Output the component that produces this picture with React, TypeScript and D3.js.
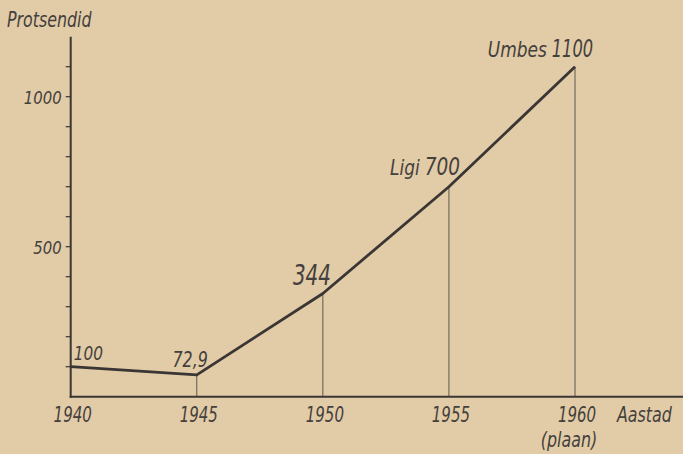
import React, { useEffect, useRef } from 'react';
import * as d3 from 'd3';

// Tööstustoodangu kasv protsentides (1940 = 100)
const years = [1940, 1945, 1950, 1955, 1960];
const values = [100, 72.9, 344, 700, 1100];
const pointLabels = ['100', '72,9', '344', '700', '1100'];
const labelPrefixes = ['', '', '', 'Ligi', 'Umbes'];
const yTickValues = [100, 200, 300, 400, 500, 600, 700, 800, 900, 1000, 1100];
const yTickLabels = [500, 1000];

const W = 683;
const H = 454;
const FONT = '"DejaVu Sans Condensed", "DejaVu Sans", sans-serif';
const INK = '#3a3633';
const TEXT = '#44403c';
const PAPER = '#e2cba7';

// label placement relative to the point: [anchor x offset, baseline offset, number size, x-scale]
const labelLayout: [number, number, number, number][] = [
  [3, -7, 20, 0.85],
  [11, -8, 22, 0.8],
  [8, -9, 28, 0.79],
  [11, -12, 25, 0.82],
  [18, -10, 24, 0.75],
];

type G = d3.Selection<SVGGElement, unknown, null, undefined>;

// narrow italic text, squeezed horizontally like the condensed lettering of the original
const addText = (
  g: G,
  x: number,
  y: number,
  text: string,
  size: number,
  sx: number,
  anchor: 'start' | 'middle' | 'end' = 'start'
) =>
  g.append('text')
    .attr('transform', `translate(${x},${y}) scale(${sx},1)`)
    .attr('text-anchor', anchor)
    .attr('font-size', size)
    .attr('fill', TEXT)
    .text(text);

const App: React.FC = () => {
  const svgRef = useRef<SVGSVGElement>(null);

  useEffect(() => {
    if (!svgRef.current) return;
    const svg = d3.select(svgRef.current);
    svg.selectAll('*').remove();

    const x = d3.scaleLinear().domain([1940, 1960]).range([70.7, 575]);
    const y = d3.scaleLinear().domain([0, 1200]).range([396.7, 36.7]);
    const x0 = x(1940);
    const y0 = y(0);

    svg.append('rect').attr('width', W).attr('height', H).attr('fill', PAPER);

    const g = svg.append('g').style('font-family', FONT).style('font-style', 'italic') as G;

    // drop lines
    g.selectAll('.drop')
      .data(years.slice(1))
      .enter()
      .append('line')
      .attr('x1', (d) => x(d))
      .attr('x2', (d) => x(d))
      .attr('y1', (d) => y(values[years.indexOf(d)]))
      .attr('y2', y0)
      .attr('stroke', '#5e5850')
      .attr('stroke-width', 1);

    // axes
    g.append('line')
      .attr('x1', x0).attr('x2', x0)
      .attr('y1', y(1200)).attr('y2', y0 + 1)
      .attr('stroke', INK).attr('stroke-width', 2);
    g.append('line')
      .attr('x1', x0 - 1).attr('x2', W)
      .attr('y1', y0).attr('y2', y0)
      .attr('stroke', INK).attr('stroke-width', 2);

    g.selectAll('.ytick')
      .data(yTickValues)
      .enter()
      .append('line')
      .attr('x1', x0 - 5).attr('x2', x0)
      .attr('y1', (d) => y(d)).attr('y2', (d) => y(d))
      .attr('stroke', INK).attr('stroke-width', 1.2);

    yTickLabels.forEach((d) => addText(g, x0 - 9, y(d) + 7, String(d), 18, 0.92, 'end'));

    addText(g, 7, 27, 'Protsendid', 21, 0.84);

    // x labels
    years.forEach((d) => addText(g, x(d) + 2, 422, String(d), 22, 0.76, 'middle'));
    addText(g, x(1960) - 6, 447, '(plaan)', 21, 0.84, 'middle');
    addText(g, 617, 422, 'Aastad', 21, 0.84);

    // main line
    const line = d3.line<number>()
      .x((_, i) => x(years[i]))
      .y((d) => y(d));
    g.append('path')
      .datum(values)
      .attr('d', line)
      .attr('fill', 'none')
      .attr('stroke', INK)
      .attr('stroke-width', 2.8)
      .attr('stroke-linejoin', 'round');

    // point labels
    values.forEach((v, i) => {
      const [dx, dy, size, sx] = labelLayout[i];
      const px = x(years[i]) + dx;
      const py = y(v) + dy;
      const num = addText(g, px, py, pointLabels[i], size, sx, i === 0 ? 'start' : 'end');
      if (labelPrefixes[i]) {
        const w = (num.node() as SVGTextElement).getComputedTextLength() * sx;
        addText(g, px - w - 5, py, labelPrefixes[i], 21, 0.9, 'end');
      }
    });
  }, []);

  return (
    <svg
      ref={svgRef}
      width={W}
      height={H}
      style={{ position: 'absolute', left: 0, top: 0, display: 'block' }}
    />
  );
};

export default App;
